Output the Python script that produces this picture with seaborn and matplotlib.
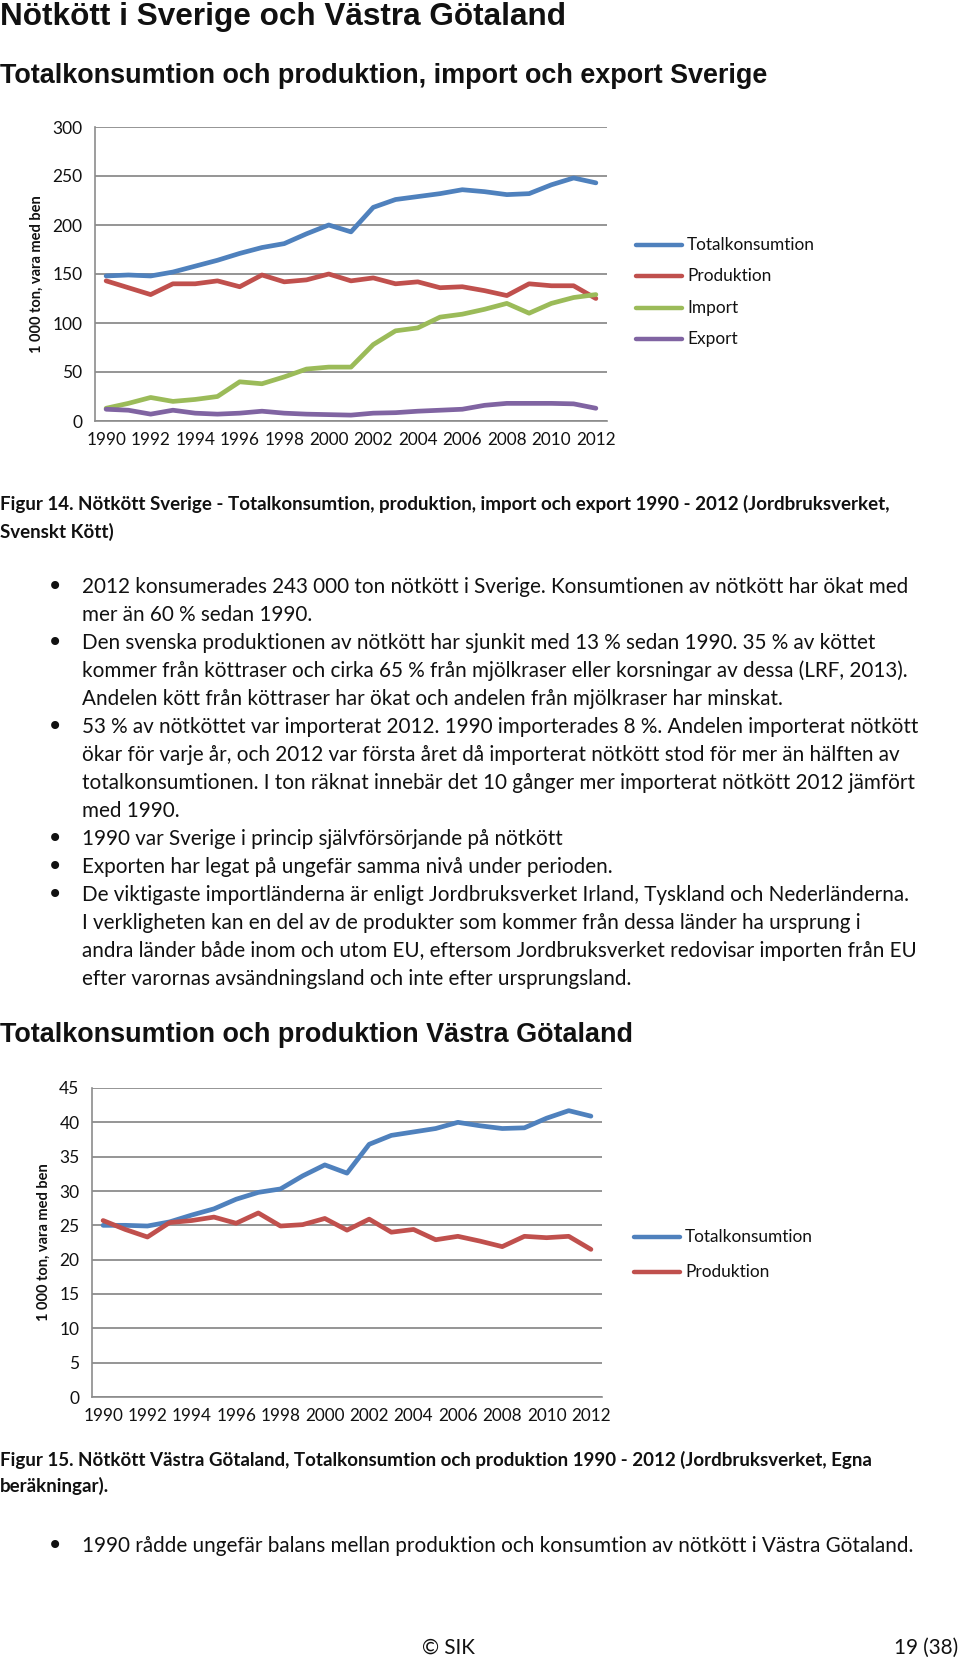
import numpy as np
import pandas as pd
import matplotlib
matplotlib.use("Agg")
import matplotlib.pyplot as plt
import seaborn as sns

# --- data ---
years = list(range(1990, 2013))

sv_total = [148, 149, 148, 152, 158, 164, 171, 177, 181, 191, 200, 193,
            218, 226, 229, 232, 236, 234, 231, 232, 241, 248, 243]
sv_prod = [143, 136, 129, 140, 140, 143, 137, 149, 142, 144, 150, 143,
           146, 140, 142, 136, 137, 133, 128, 140, 138, 138, 125]
sv_import = [13, 18, 24, 20, 22, 25, 40, 38, 45, 53, 55, 55,
             78, 92, 95, 106, 109, 114, 120, 110, 120, 126, 129]
sv_export = [12, 11, 7, 11, 8, 7, 8, 10, 8, 7, 6.5, 6,
             8, 8.5, 10, 11, 12, 16, 18, 18, 18, 17.5, 13]

vg_total = [25.0, 25.0, 24.9, 25.5, 26.5, 27.4, 28.8, 29.8, 30.3, 32.2, 33.8, 32.6,
            36.8, 38.1, 38.6, 39.1, 40.0, 39.5, 39.1, 39.2, 40.6, 41.7, 40.9]
vg_prod = [25.7, 24.4, 23.3, 25.4, 25.7, 26.2, 25.3, 26.8, 24.9, 25.1, 26.0, 24.3,
           25.9, 24.0, 24.4, 22.9, 23.4, 22.7, 21.9, 23.4, 23.2, 23.4, 21.5]

series_sv = ["Totalkonsumtion", "Produktion", "Import", "Export"]
series_vg = ["Totalkonsumtion", "Produktion"]
colors = {"Totalkonsumtion": "#4F81BD", "Produktion": "#C0504D",
          "Import": "#9BBB59", "Export": "#8064A2"}

df_sv = pd.DataFrame({"År": years * 4,
                      "Värde": sv_total + sv_prod + sv_import + sv_export,
                      "Serie": sum([[s] * len(years) for s in series_sv], [])})
df_vg = pd.DataFrame({"År": years * 2,
                      "Värde": vg_total + vg_prod,
                      "Serie": sum([[s] * len(years) for s in series_vg], [])})

bullets_sv = [
    ["2012 konsumerades 243 000 ton nötkött i Sverige. Konsumtionen av nötkött har ökat med",
     "mer än 60 % sedan 1990."],
    ["Den svenska produktionen av nötkött har sjunkit med 13 % sedan 1990. 35 % av köttet",
     "kommer från köttraser och cirka 65 % från mjölkraser eller korsningar av dessa (LRF, 2013).",
     "Andelen kött från köttraser har ökat och andelen från mjölkraser har minskat."],
    ["53 % av nötköttet var importerat 2012. 1990 importerades 8 %. Andelen importerat nötkött",
     "ökar för varje år, och 2012 var första året då importerat nötkött stod för mer än hälften av",
     "totalkonsumtionen. I ton räknat innebär det 10 gånger mer importerat nötkött 2012 jämfört",
     "med 1990."],
    ["1990 var Sverige i princip självförsörjande på nötkött"],
    ["Exporten har legat på ungefär samma nivå under perioden."],
    ["De viktigaste importländerna är enligt Jordbruksverket Irland, Tyskland och Nederländerna.",
     "I verkligheten kan en del av de produkter som kommer från dessa länder ha ursprung i",
     "andra länder både inom och utom EU, eftersom Jordbruksverket redovisar importen från EU",
     "efter varornas avsändningsland och inte efter ursprungsland."],
]

sns.set_theme(style="white")
body_font = ["Lato", "DejaVu Sans"]
head_font = ["Liberation Sans", "DejaVu Sans"]
plt.rcParams["font.family"] = body_font
ink = "#111111"

W, H = 960, 1661
fig = plt.figure(figsize=(W / 100, H / 100), dpi=100)
renderer = fig.canvas.get_renderer()


def fx(px):
    return px / W


def fy(py):
    return 1 - py / H


def fit_text(x, y, s, width_px, size, **kw):
    # scale the font so the line spans about the same width as in the reference
    t = fig.text(fx(x), fy(y), s, fontsize=size, va="center", color=ink, **kw)
    w = t.get_window_extent(renderer=renderer).width
    t.set_fontsize(size * width_px / w)
    return t


def make_axes(left, right, top, bottom):
    return fig.add_axes([fx(left), fy(bottom), fx(right - left), (bottom - top) / H])


def style_axis(ax, ymax, ystep):
    ax.set_xlim(1989.5, 2012.5)
    ax.set_ylim(0, ymax)
    ax.set_yticks(np.arange(0, ymax + 0.01, ystep))
    ax.set_xticks(years[::2])
    ax.set_xticks(np.arange(1989.5, 2013), minor=True)
    ax.yaxis.grid(True, color="#8c8c8c", linewidth=1.3)
    ax.set_axisbelow(True)
    for s in ["top", "right"]:
        ax.spines[s].set_visible(False)
    for s in ["left", "bottom"]:
        ax.spines[s].set_color("#8c8c8c")
        ax.spines[s].set_linewidth(1.2)
    ax.tick_params(axis="x", which="major", length=0, pad=8, labelsize=12.3, labelcolor=ink)
    ax.tick_params(axis="x", which="minor", length=5, width=1.2, color="#8c8c8c", direction="out")
    ax.tick_params(axis="y", length=5, width=1.2, color="#8c8c8c", direction="out",
                   labelsize=12.5, pad=4, labelcolor=ink)
    ax.set_xlabel("")
    ax.set_ylabel("1 000 ton, vara med ben", fontsize=10.5, fontweight="bold",
                  labelpad=6, color=ink)


def draw_legend(names, x0, ys):
    for name, y in zip(names, ys):
        fig.add_artist(plt.Line2D([fx(x0), fx(x0 + 46)], [fy(y), fy(y)],
                                  color=colors[name], linewidth=3.2,
                                  solid_capstyle="round", transform=fig.transFigure))
        fig.text(fx(x0 + 51), fy(y), name, fontsize=12.4, va="center", ha="left", color=ink)


def bullet(y):
    fig.text(fx(55), fy(y), "•", fontsize=20, va="center", ha="center",
             family=["DejaVu Sans"], color=ink)


# headings
fit_text(0, 17, "Nötkött i Sverige och Västra Götaland", 565, 23,
         fontweight="bold", family=head_font)
fit_text(0, 76, "Totalkonsumtion och produktion, import och export Sverige", 771, 19,
         fontweight="bold", family=head_font)

# chart 1
ax1 = make_axes(95, 607, 127, 421)
sns.lineplot(data=df_sv, x="År", y="Värde", hue="Serie", palette=colors,
             linewidth=3.4, ax=ax1, legend=False)
for ln in ax1.lines:
    ln.set_solid_capstyle("round")
    ln.set_solid_joinstyle("round")
style_axis(ax1, 300, 50)
draw_legend(series_sv, 636, [245, 276, 308, 339])

cap = fit_text(0, 504,
               "Figur 14. Nötkött Sverige - Totalkonsumtion, produktion, import och export 1990 - 2012 (Jordbruksverket,",
               888, 13, fontweight="bold")
fig.text(0, fy(532), "Svenskt Kött)", fontsize=cap.get_fontsize(), fontweight="bold",
         va="center", color=ink)

# bullet text
body_size = None
y = 587
for item in bullets_sv:
    bullet(y)
    for line in item:
        if body_size is None:
            t = fit_text(82, y, line, 825, 14, ha="left")
            body_size = t.get_fontsize()
        else:
            fig.text(fx(82), fy(y), line, fontsize=body_size, va="center", ha="left", color=ink)
        y += 28.0

fit_text(0, 1035, "Totalkonsumtion och produktion Västra Götaland", 636, 19,
         fontweight="bold", family=head_font)

# chart 2
ax2 = make_axes(92, 602, 1088, 1397)
sns.lineplot(data=df_vg, x="År", y="Värde", hue="Serie", palette=colors,
             linewidth=3.4, ax=ax2, legend=False)
for ln in ax2.lines:
    ln.set_solid_capstyle("round")
    ln.set_solid_joinstyle("round")
style_axis(ax2, 45, 5)
draw_legend(series_vg, 634, [1237, 1272])

fig.text(0, fy(1460),
         "Figur 15. Nötkött Västra Götaland, Totalkonsumtion och produktion 1990 - 2012 (Jordbruksverket, Egna",
         fontsize=cap.get_fontsize(), fontweight="bold", va="center", color=ink)
fig.text(0, fy(1486), "beräkningar).", fontsize=cap.get_fontsize(),
         fontweight="bold", va="center", color=ink)

bullet(1546)
fig.text(fx(82), fy(1546),
         "1990 rådde ungefär balans mellan produktion och konsumtion av nötkött i Västra Götaland.",
         fontsize=body_size, va="center", ha="left", color=ink)

fig.text(fx(422), fy(1648), "© SIK", fontsize=body_size, va="center", ha="left", color=ink)
fig.text(fx(958), fy(1648), "19 (38)", fontsize=body_size, va="center", ha="right", color=ink)

fig.savefig("out.png", dpi=100, facecolor="white")
